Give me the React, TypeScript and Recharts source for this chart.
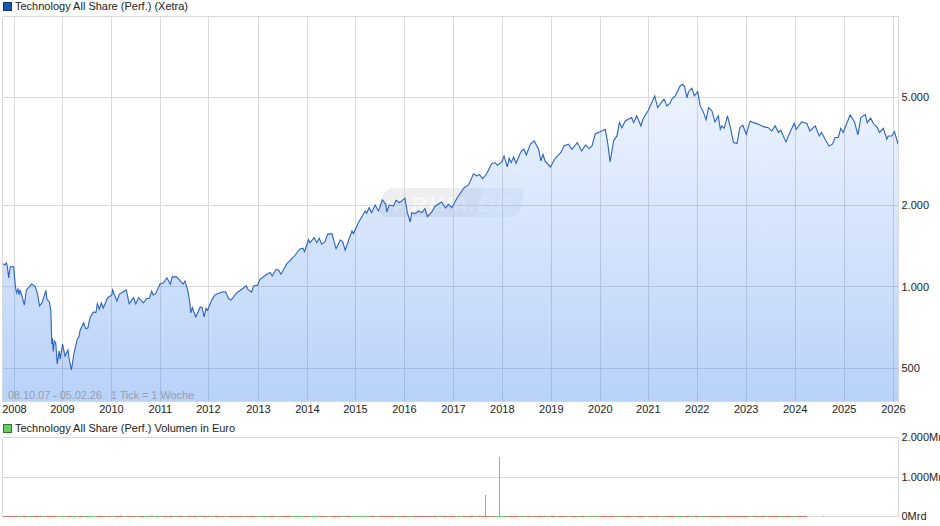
import React from 'react';
import { AreaChart, Area, BarChart, Bar, Cell, XAxis, YAxis, CartesianGrid, ReferenceLine } from 'recharts';

// x positions are decimal years
const priceTimes = [
  2007.76, 2007.80, 2007.83, 2007.85, 2007.88, 2007.91, 2007.98, 2008.02, 2008.04, 2008.07, 2008.09, 2008.11, 2008.15, 2008.20, 2008.24, 2008.28,
  2008.35, 2008.42, 2008.47, 2008.51, 2008.56, 2008.64, 2008.66, 2008.71, 2008.74, 2008.76, 2008.77, 2008.79, 2008.81, 2008.84, 2008.87, 2008.91,
  2008.93, 2008.98, 2009.03, 2009.09, 2009.11, 2009.16, 2009.21, 2009.28, 2009.31, 2009.34, 2009.41, 2009.45, 2009.495, 2009.54, 2009.61, 2009.66,
  2009.69, 2009.73, 2009.77, 2009.81, 2009.90, 2009.985, 2010.00, 2010.09, 2010.14, 2010.19, 2010.28, 2010.34, 2010.43, 2010.475, 2010.53, 2010.63,
  2010.69, 2010.75, 2010.80, 2010.83, 2010.88, 2010.97, 2011.04, 2011.11, 2011.18, 2011.22, 2011.31, 2011.44, 2011.48, 2011.54, 2011.58, 2011.60,
  2011.63, 2011.70, 2011.79, 2011.83, 2011.87, 2011.91, 2011.94, 2012.03, 2012.09, 2012.23, 2012.31, 2012.37, 2012.42, 2012.54, 2012.64, 2012.73,
  2012.77, 2012.84, 2012.88, 2012.96, 2013.01, 2013.15, 2013.22, 2013.26, 2013.34, 2013.39, 2013.44, 2013.56, 2013.63, 2013.73, 2013.82, 2013.89,
  2013.92, 2014.00, 2014.03, 2014.12, 2014.17, 2014.22, 2014.27, 2014.34, 2014.39, 2014.48, 2014.565, 2014.65, 2014.70, 2014.75, 2014.82, 2014.89,
  2014.92, 2015.02, 2015.16, 2015.19, 2015.24, 2015.29, 2015.36, 2015.43, 2015.51, 2015.58, 2015.60, 2015.65, 2015.735, 2015.79, 2015.86, 2015.97,
  2016.02, 2016.08, 2016.11, 2016.18, 2016.25, 2016.315, 2016.38, 2016.43, 2016.52, 2016.59, 2016.72, 2016.80, 2016.86, 2016.93, 2017.03, 2017.18,
  2017.27, 2017.37, 2017.44, 2017.49, 2017.56, 2017.64, 2017.74, 2017.81, 2017.86, 2017.95, 2017.995, 2018.06, 2018.10, 2018.14, 2018.19, 2018.24,
  2018.34, 2018.40, 2018.45, 2018.53, 2018.61, 2018.70, 2018.745, 2018.79, 2018.83, 2018.94, 2019.04, 2019.15, 2019.22, 2019.31, 2019.38, 2019.49,
  2019.58, 2019.66, 2019.73, 2019.79, 2019.855, 2019.99, 2020.06, 2020.11, 2020.16, 2020.23, 2020.30, 2020.35, 2020.40, 2020.47, 2020.53, 2020.60,
  2020.64, 2020.705, 2020.79, 2020.83, 2020.94, 2021.01, 2021.07, 2021.13, 2021.22, 2021.26, 2021.32, 2021.385, 2021.42, 2021.49, 2021.59, 2021.64,
  2021.68, 2021.73, 2021.76, 2021.83, 2021.88, 2021.95, 2022.00, 2022.07, 2022.12, 2022.17, 2022.24, 2022.30, 2022.37, 2022.41, 2022.44, 2022.49,
  2022.556, 2022.625, 2022.68, 2022.75, 2022.81, 2022.87, 2022.94, 2023.02, 2023.09, 2023.19, 2023.29, 2023.39, 2023.46, 2023.53, 2023.60, 2023.645,
  2023.75, 2023.84, 2023.92, 2023.96, 2024.07, 2024.18, 2024.24, 2024.35, 2024.43, 2024.48, 2024.55, 2024.63, 2024.70, 2024.755, 2024.82, 2024.87,
  2024.92, 2025.06, 2025.15, 2025.22, 2025.28, 2025.37, 2025.41, 2025.48, 2025.54, 2025.62, 2025.66, 2025.74, 2025.81, 2025.84, 2025.91, 2025.966, 2026.04,
];

const priceValues = [
  1219, 1205, 1229, 1195, 1080, 1188, 1188, 994, 952, 983, 934, 975, 926, 858, 975, 992,
  1026, 1003, 941, 851, 875, 972, 903, 881, 815, 616, 648, 578, 632, 623, 520, 581,
  542, 616, 556, 586, 548, 494, 566, 643, 652, 694, 738, 702, 706, 770, 809, 804,
  868, 829, 873, 836, 913, 934, 975, 888, 941, 952, 975, 868, 913, 866, 913, 873,
  905, 908, 966, 934, 945, 1026, 1037, 1082, 1024, 1090, 1090, 1024, 1052, 966, 866, 802,
  839, 775, 844, 839, 775, 834, 820, 900, 934, 958, 960, 905, 895, 952, 981, 1009,
  977, 958, 1009, 1015, 1067, 1114, 1130, 1098, 1162, 1153, 1114, 1219, 1254, 1312, 1378, 1390,
  1350, 1494, 1457, 1520, 1457, 1513, 1438, 1470, 1564, 1573, 1385, 1491, 1470, 1366, 1487, 1609,
  1574, 1727, 1907, 1870, 1962, 1880, 2006, 1907, 2094, 2018, 1891, 2006, 1990, 2089, 2045, 2126,
  1880, 1737, 1880, 1865, 1907, 1880, 1944, 1817, 1894, 1990, 2058, 1956, 2018, 1962, 2126, 2325,
  2379, 2615, 2568, 2600, 2510, 2615, 2850, 2878, 2812, 2892, 3044, 2772, 2984, 2874, 3018, 2860,
  3157, 3222, 3070, 3362, 3458, 3222, 2917, 3088, 2917, 2772, 2984, 3130, 3314, 3365, 3222, 3408,
  3176, 3343, 3240, 3314, 3670, 3764, 3818, 3408, 2892, 3458, 3608, 4040, 3870, 4098, 4158, 4218,
  4040, 4276, 3928, 4158, 4488, 4785, 5067, 4590, 4830, 4928, 4655, 4762, 4928, 5067, 5517, 5600,
  5486, 4990, 5255, 5413, 5067, 5255, 4655, 4397, 4132, 4590, 4461, 4068, 4276, 3820, 3928, 3850,
  4276, 3820, 3408, 3380, 3870, 3952, 3660, 4098, 4040, 3985, 3905, 3870, 3764, 3928, 3716, 3790,
  3429, 3745, 4018, 3820, 4068, 4000, 3764, 3928, 3608, 3716, 3510, 3314, 3365, 3560, 3560, 3850,
  3716, 4312, 4068, 3640, 4218, 4335, 4040, 4197, 4000, 3870, 3716, 3850, 3510, 3608, 3608, 3745, 3365,
];

const priceTicks = [500, 1000, 2000, 5000];
const priceDomain = [378, 9952];
const timeDomain = [2007.753, 2026.049];

const yearTicks = [
  2007.996, 2008.976, 2009.977, 2010.977, 2011.957, 2012.979, 2013.979, 2014.96, 2015.96, 2016.96,
  2017.96, 2018.96, 2019.96, 2020.94, 2021.94, 2022.94, 2023.94, 2024.94, 2025.945,
];
const yearLabels = [
  '2008', '2009', '2010', '2011', '2012', '2013', '2014', '2015', '2016', '2017',
  '2018', '2019', '2020', '2021', '2022', '2023', '2024', '2025', '2026',
];

// volume in Mio Euro, almost everything sits on the zero line
const volumeValues = [
  24, 27, 22, 25, 28, 23, 26, 24, 21, 27, 25, 29, 22, 24, 26, 23, 28, 25, 21, 24, 27, 26, 23, 25, 29, 22, 24, 27, 25, 23,
  26, 28, 24, 22, 25, 27, 23, 26, 24, 29, 21, 25, 28, 23, 26, 24, 27, 22, 25, 26, 24, 28, 23, 27, 25, 22, 26, 24, 29, 23,
  25, 27, 24, 21, 26, 28, 23, 25, 27, 24, 22, 26, 29, 25, 23, 24, 27, 26, 22, 28, 25, 24, 23, 27, 26, 21, 25, 29, 24, 22,
  26, 27, 23, 25, 28, 24, 26, 22, 27, 25, 23, 29, 24, 26, 21, 25, 27, 28, 23, 24, 26, 22, 25, 27, 24, 29, 23, 26, 25, 21,
  28, 24, 27, 22, 26, 25, 23, 29, 24, 27, 26, 22, 25, 28, 23, 24, 26, 27, 21, 25, 29, 24, 22, 26, 25, 28, 23, 27, 24, 26,
  22, 25, 29, 23, 27, 24, 26, 21, 28, 25, 24, 22, 27, 26, 23, 25, 29, 24, 26, 22, 27, 25, 28, 23, 24, 26, 21, 25, 27, 24,
  29, 22, 26, 25, 23, 28, 24, 27, 26, 21, 25, 24, 29, 23, 26, 27, 22, 25, 28, 24, 23, 26, 27, 25, 21, 29, 24, 22, 26, 25,
  27, 23, 28, 24, 26, 22, 25, 29, 23, 27, 24, 21, 26, 25, 28, 22, 24, 27, 23, 26, 25, 29, 24, 22, 27, 26, 23, 25, 28, 21,
  24, 26, 27, 25, 23, 22, 29, 24, 26, 27, 23, 25, 21, 28, 24, 26, 22, 25, 27, 23, 29, 24, 26, 25, 22, 27, 24, 23,
];
const volumeStart = 2007.796;
const volumeStep = 0.06126;
// index ranges in volumeValues where the week closed down (red)
const volumeDownRuns = [
  [0, 4], [6, 7], [10, 12], [14, 17], [21, 22], [25, 26], [31, 33], [35, 35], [37, 39], [41, 43], [45, 46], [49, 49],
  [53, 56], [58, 59], [61, 64], [66, 68], [70, 73], [75, 79], [81, 84], [88, 90], [92, 95], [100, 101], [105, 107],
  [109, 112], [114, 115], [122, 123], [125, 126], [127, 130], [132, 134], [136, 140], [141, 144], [146, 150], [153, 156],
  [158, 161], [163, 163], [168, 171], [174, 175], [177, 180], [182, 183], [185, 187], [189, 190], [192, 193], [196, 196],
  [199, 199], [200, 203], [206, 209], [211, 213], [215, 218], [220, 223], [227, 228], [230, 231], [234, 238], [240, 241],
  [242, 245], [246, 248], [250, 253], [255, 258], [260, 262], [264, 267],
];
const spikeTimes = [2017.614, 2017.90, 2024.51];
const spikeValues = [565, 1527, 30];
const volumeTicks = [0, 1000, 2000];
const volumeDomain = [0, 2000];

const priceRows = priceTimes.map((t, i) => ({ t, price: priceValues[i] }));
const volumeRows = [
  ...volumeValues.map((v, i) => ({ t: volumeStart + i * volumeStep, low: v, down: volumeDownRuns.some(([a, b]) => i >= a && i <= b) })),
  ...spikeTimes.map((t, i) => ({ t, spike: spikeValues[i] })),
];

const FONT = '"Liberation Sans", Arial, sans-serif';
const GRID = '#d9d9d9';
const UP = '#6ccf6c';
const DOWN = '#e07070';
const tickStyle = { fontSize: 11, fill: '#222', fontFamily: FONT };

const yearLabel = (v: number) => yearLabels[yearTicks.indexOf(v)] ?? '';
const priceLabel = (v: number) => (v >= 1000 ? `${v / 1000}.000` : `${v}`);
const volumeLabel = (v: number) => (v === 0 ? '0Mrd' : `${v / 1000}.000Mrd`);

// the time axis is so dense that Recharts squeezes the bars to nothing, so keep a fixed width
// and snap to whole pixels, the small volumes would flicker between 0 and 1px otherwise
const fixedBar = (w: number) => (p: any) => {
  if (!p.height) return <g />;
  const bottom = Math.ceil(p.y + p.height);
  const h = Math.max(1, Math.round(p.height));
  const left = Math.round(p.x + p.width / 2 - w / 2);
  return <rect x={left} y={bottom - h} width={w} height={h} fill={p.fill} />;
};

const LegendRow = ({ top, color, border, label }: { top: number; color: string; border: string; label: string }) => (
  <div style={{ position: 'absolute', left: 3, top, height: 12, display: 'flex', alignItems: 'center', font: `11px ${FONT}`, color: '#222', whiteSpace: 'nowrap' }}>
    <span style={{ width: 7, height: 7, background: color, border: `1px solid ${border}`, marginRight: 3, display: 'inline-block' }} />
    {label}
  </div>
);

export default function App() {
  return (
    <div style={{ position: 'absolute', left: 0, top: 0, width: 940, height: 526, overflow: 'hidden', background: '#fff' }}>
      {/* watermark sits behind the translucent area */}
      <div style={{ position: 'absolute', left: 381, top: 188, width: 98, height: 29, background: 'rgba(110,110,120,0.11)', borderRadius: '9px 0 0 9px', transform: 'skewX(-14deg)' }} />
      <div style={{ position: 'absolute', left: 479, top: 188, width: 43, height: 29, background: 'rgba(140,165,210,0.10)', borderRadius: '0 9px 9px 0', transform: 'skewX(-14deg)' }} />
      <div style={{ position: 'absolute', left: 393, top: 192, font: `italic bold 22px ${FONT}`, color: 'rgba(255,255,255,0.6)', whiteSpace: 'nowrap', letterSpacing: 2 }}>
        ARIVA.DE
      </div>

      <LegendRow top={0} color="#1a56b8" border="#12327a" label="Technology All Share (Perf.) (Xetra)" />
      <LegendRow top={422} color="#66cc66" border="#2d7a2d" label="Technology All Share (Perf.) Volumen in Euro" />

      <div style={{ position: 'absolute', left: 0, top: 0 }}>
        <AreaChart width={940} height={422} data={priceRows} margin={{ top: 16.5, right: 0, bottom: 0, left: 2.5 }}>
          <defs>
            <linearGradient id="priceFill" x1="0" y1="0" x2="0" y2="1">
              <stop offset="0%" stopColor="#3c82f0" stopOpacity={0.09} />
              <stop offset="100%" stopColor="#3c82f0" stopOpacity={0.36} />
            </linearGradient>
          </defs>
          <CartesianGrid stroke={GRID} shapeRendering="crispEdges" />
          <ReferenceLine x={timeDomain[0]} stroke={GRID} shapeRendering="crispEdges" />
          <ReferenceLine x={timeDomain[1]} stroke={GRID} shapeRendering="crispEdges" />
          <ReferenceLine y={priceDomain[0]} stroke={GRID} shapeRendering="crispEdges" />
          <ReferenceLine y={priceDomain[1]} stroke={GRID} shapeRendering="crispEdges" />
          <XAxis
            dataKey="t"
            type="number"
            domain={timeDomain}
            ticks={yearTicks}
            interval={0}
            tickFormatter={yearLabel}
            tick={tickStyle}
            tickLine={false}
            axisLine={false}
            tickSize={0}
            tickMargin={4}
            height={20.5}
            allowDataOverflow
          />
          <YAxis
            orientation="right"
            scale="log"
            domain={priceDomain}
            ticks={priceTicks}
            interval={0}
            tickFormatter={priceLabel}
            tick={tickStyle}
            tickLine={false}
            axisLine={false}
            tickSize={0}
            tickMargin={3}
            width={41.5}
            allowDataOverflow
          />
          <Area
            type="linear"
            dataKey="price"
            baseValue={priceDomain[0]}
            stroke="#2a62c4"
            strokeWidth={1.1}
            fill="url(#priceFill)"
            fillOpacity={1}
            dot={false}
            activeDot={false}
            isAnimationActive={false}
          />
        </AreaChart>
      </div>

      <div style={{ position: 'absolute', left: 8, top: 389, font: `11px ${FONT}`, color: 'rgba(120,120,120,0.6)', whiteSpace: 'pre', letterSpacing: -0.08 }}>
        {'08.10.07 - 05.02.26   1 Tick = 1 Woche'}
      </div>

      <div style={{ position: 'absolute', left: 0, top: 430 }}>
        <BarChart width={940} height={96} data={volumeRows} margin={{ top: 7.5, right: 0, bottom: 9.5, left: 2.5 }}>
          <CartesianGrid stroke={GRID} shapeRendering="crispEdges" />
          <ReferenceLine x={timeDomain[0]} stroke={GRID} shapeRendering="crispEdges" />
          <ReferenceLine x={timeDomain[1]} stroke={GRID} shapeRendering="crispEdges" />
          <ReferenceLine y={volumeDomain[1]} stroke={GRID} shapeRendering="crispEdges" />
          <XAxis
            dataKey="t"
            type="number"
            domain={timeDomain}
            ticks={yearTicks}
            interval={0}
            tick={false}
            tickLine={false}
            axisLine={{ stroke: GRID }}
            height={0}
            allowDataOverflow
          />
          <YAxis
            orientation="right"
            domain={volumeDomain}
            ticks={volumeTicks}
            interval={0}
            tickFormatter={volumeLabel}
            tick={tickStyle}
            tickLine={false}
            axisLine={false}
            tickSize={0}
            tickMargin={3}
            width={41.5}
          />
          <Bar dataKey="low" shape={fixedBar(3)} isAnimationActive={false}>
            {volumeRows.map((r, i) => (
              <Cell key={i} fill={'down' in r && r.down ? DOWN : UP} />
            ))}
          </Bar>
          <Bar dataKey="spike" shape={fixedBar(1)} fill={UP} isAnimationActive={false} />
        </BarChart>
      </div>
    </div>
  );
}
